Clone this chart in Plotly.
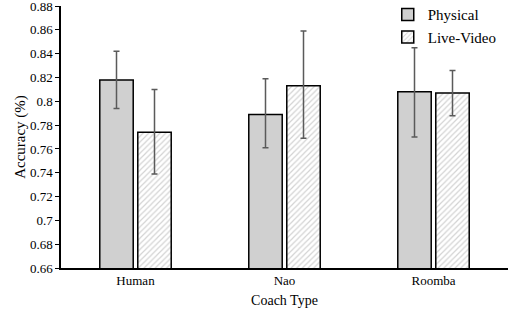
import plotly.graph_objects as go

categories = ["Human", "Nao", "Roomba"]
physical = [0.818, 0.789, 0.808]
physical_hi = [0.842, 0.819, 0.845]
physical_lo = [0.794, 0.761, 0.770]
live_video = [0.774, 0.813, 0.807]
live_hi = [0.810, 0.859, 0.826]
live_lo = [0.739, 0.769, 0.788]
y_ticks = [0.66, 0.68, 0.70, 0.72, 0.74, 0.76, 0.78, 0.80, 0.82, 0.84, 0.86, 0.88]
y_tick_labels = ["0.66", "0.68", "0.7", "0.72", "0.74", "0.76", "0.78", "0.8", "0.82", "0.84", "0.86", "0.88"]

FONT = "'Liberation Serif', 'DejaVu Serif', serif"
err_color = "#5a5a5a"

fig = go.Figure()
fig.add_trace(go.Bar(
    name="Physical", x=categories, y=physical,
    marker=dict(color="#d0d0d0", line=dict(color="black", width=1.5)),
    error_y=dict(type="data", symmetric=False,
                 array=[h - v for h, v in zip(physical_hi, physical)],
                 arrayminus=[v - l for l, v in zip(physical_lo, physical)],
                 color=err_color, thickness=1.5, width=3),
))
fig.add_trace(go.Bar(
    name="Live-Video", x=categories, y=live_video,
    marker=dict(color="white", line=dict(color="black", width=1.5),
                pattern=dict(shape="/", fgcolor="#a8a8a8", bgcolor="white", size=4, solidity=0.3)),
    error_y=dict(type="data", symmetric=False,
                 array=[h - v for h, v in zip(live_hi, live_video)],
                 arrayminus=[v - l for l, v in zip(live_lo, live_video)],
                 color=err_color, thickness=1.5, width=3),
))

fig.update_layout(
    width=510, height=316,
    margin=dict(l=61, r=2, t=6, b=48, autoexpand=False),
    paper_bgcolor="white", plot_bgcolor="white",
    font=dict(family=FONT, size=13, color="black"),
    barmode="group", bargap=0.49, bargroupgap=0.12,
    showlegend=True,
    legend=dict(x=0.731, y=1.03, xanchor="left", yanchor="top",
                font=dict(family=FONT, size=15, color="black"),
                bgcolor="rgba(0,0,0,0)", itemwidth=30),
)
fig.update_yaxes(
    range=[0.66, 0.8801], tickvals=y_ticks, ticktext=y_tick_labels,
    showline=True, linecolor="black", linewidth=1.5,
    ticks="outside", ticklen=4, tickcolor="black",
    showgrid=False, zeroline=False, ticklabeloverflow="allow",
    title=dict(text="Accuracy (%)", font=dict(family=FONT, size=15), standoff=1),
    tickfont=dict(family=FONT, size=13),
)
fig.update_xaxes(
    showline=True, linecolor="black", linewidth=1.5,
    ticks="", showgrid=False,
    title=dict(text="Coach Type", font=dict(family=FONT, size=14), standoff=8),
    tickfont=dict(family=FONT, size=13),
)

fig.write_html("out.html", config={"displayModeBar": False},
               post_script="document.body.style.margin='0';")
